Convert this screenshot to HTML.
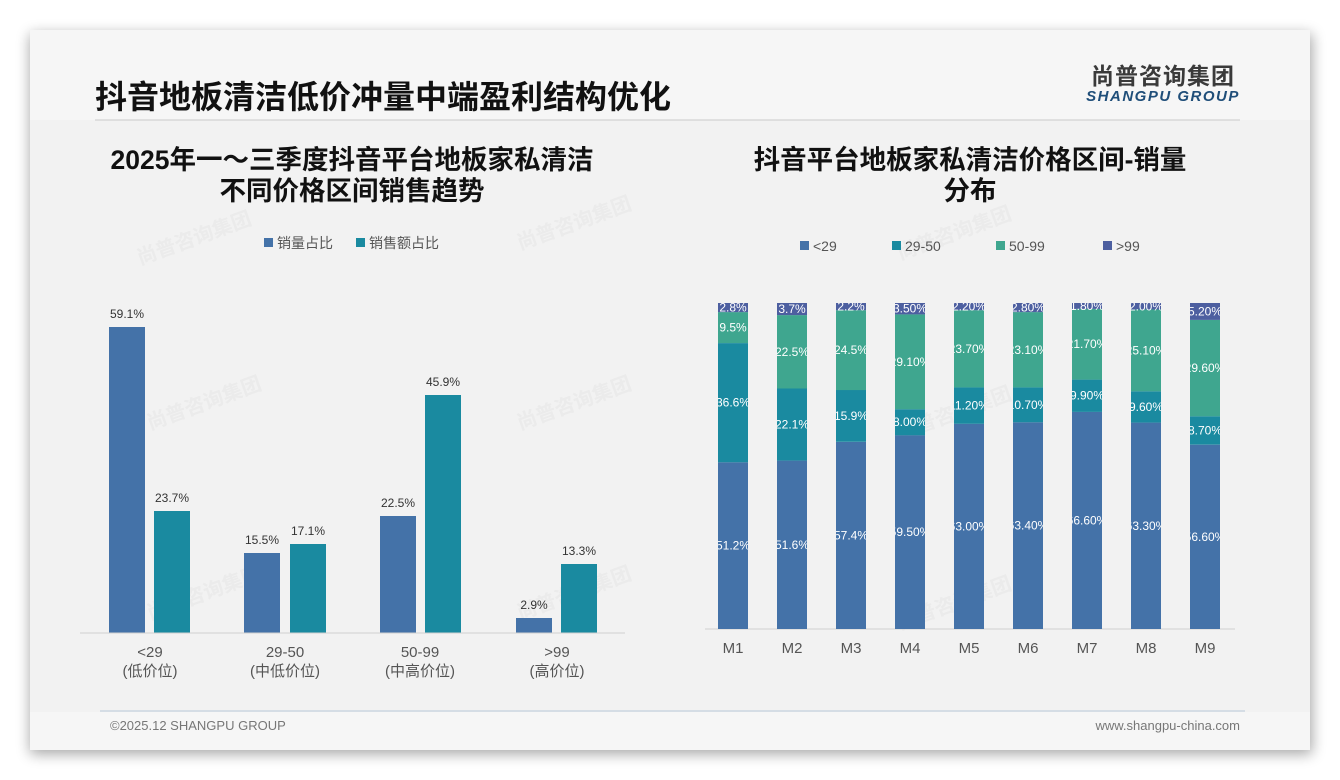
<!DOCTYPE html>
<html><head><meta charset="utf-8"><style>
body{margin:0;background:#fff;}
svg{display:block;font-family:"Liberation Sans","Noto Sans CJK SC",sans-serif;}
</style></head><body>
<svg width="1340" height="780" viewBox="0 0 1340 780" xmlns="http://www.w3.org/2000/svg">
<defs>
<filter id="sh" x="-5%" y="-5%" width="110%" height="110%"><feGaussianBlur stdDeviation="7"/></filter>
</defs>
<rect x="30" y="34" width="1282" height="720" fill="#000" opacity="0.35" filter="url(#sh)"/>
<rect x="30" y="30" width="1280" height="720" fill="#f6f6f6"/>
<rect x="30" y="120" width="1280" height="592" fill="#f2f2f2"/>
<text x="95" y="108" font-size="32" font-weight="bold" fill="#111">抖音地板清洁低价冲量中端盈利结构优化</text>
<line x1="95" y1="120" x2="1240" y2="120" stroke="#d8d8d8" stroke-width="1.5"/>
<text x="1163" y="84" font-size="23" font-weight="bold" fill="#3a3a3a" text-anchor="middle" letter-spacing="1">尚普咨询集团</text>
<text x="1163" y="101" font-size="15" font-weight="bold" font-style="italic" fill="#1f4e79" text-anchor="middle" letter-spacing="1.5">SHANGPU GROUP</text>

<g font-size="20" font-weight="bold" fill="#e6e6e6" opacity="0.6">
<text transform="translate(140,265) rotate(-20)">尚普咨询集团</text>
<text transform="translate(520,250) rotate(-20)">尚普咨询集团</text>
<text transform="translate(900,260) rotate(-20)">尚普咨询集团</text>
<text transform="translate(150,430) rotate(-20)">尚普咨询集团</text>
<text transform="translate(520,430) rotate(-20)">尚普咨询集团</text>
<text transform="translate(900,440) rotate(-20)">尚普咨询集团</text>
<text transform="translate(150,620) rotate(-20)">尚普咨询集团</text>
<text transform="translate(520,620) rotate(-20)">尚普咨询集团</text>
<text transform="translate(900,630) rotate(-20)">尚普咨询集团</text>
</g>

<!-- Left chart -->
<text x="352" y="169" font-size="26.5" font-weight="bold" fill="#111" text-anchor="middle">2025年一～三季度抖音平台地板家私清洁</text>
<text x="352" y="200" font-size="26.5" font-weight="bold" fill="#111" text-anchor="middle">不同价格区间销售趋势</text>
<rect x="264" y="238" width="9" height="9" fill="#4472a8"/>
<text x="277" y="248" font-size="14" fill="#555">销量占比</text>
<rect x="356" y="238" width="9" height="9" fill="#1a8aa0"/>
<text x="369" y="248" font-size="14" fill="#555">销售额占比</text>
<g font-size="12" fill="#333" text-anchor="middle">
<rect x="109" y="327" width="36" height="306" fill="#4472a8"/><text x="127" y="318">59.1%</text>
<rect x="154" y="511" width="36" height="122" fill="#1a8aa0"/><text x="172" y="502">23.7%</text>
<rect x="244" y="553" width="36" height="80" fill="#4472a8"/><text x="262" y="544">15.5%</text>
<rect x="290" y="544" width="36" height="89" fill="#1a8aa0"/><text x="308" y="535">17.1%</text>
<rect x="380" y="516" width="36" height="117" fill="#4472a8"/><text x="398" y="507">22.5%</text>
<rect x="425" y="395" width="36" height="238" fill="#1a8aa0"/><text x="443" y="386">45.9%</text>
<rect x="516" y="618" width="36" height="15" fill="#4472a8"/><text x="534" y="609">2.9%</text>
<rect x="561" y="564" width="36" height="69" fill="#1a8aa0"/><text x="579" y="555">13.3%</text>
</g>
<line x1="80" y1="633" x2="625" y2="633" stroke="#d0d0d0"/>
<g font-size="15" fill="#555" text-anchor="middle">
<text x="150" y="657">&lt;29</text><text x="150" y="676">(低价位)</text>
<text x="285" y="657">29-50</text><text x="285" y="676">(中低价位)</text>
<text x="420" y="657">50-99</text><text x="420" y="676">(中高价位)</text>
<text x="557" y="657">&gt;99</text><text x="557" y="676">(高价位)</text>
</g>

<!-- Right chart -->
<text x="970" y="169" font-size="26.5" font-weight="bold" fill="#111" text-anchor="middle">抖音平台地板家私清洁价格区间-销量</text>
<text x="970" y="200" font-size="26.5" font-weight="bold" fill="#111" text-anchor="middle">分布</text>
<g font-size="14" fill="#555">
<rect x="800" y="241" width="9" height="9" fill="#4472a8"/><text x="813" y="251">&lt;29</text>
<rect x="892" y="241" width="9" height="9" fill="#1a8aa0"/><text x="905" y="251">29-50</text>
<rect x="996" y="241" width="9" height="9" fill="#3fa68f"/><text x="1009" y="251">50-99</text>
<rect x="1103" y="241" width="9" height="9" fill="#4d5fa0"/><text x="1116" y="251">&gt;99</text>
</g>
<line x1="705" y1="629" x2="1235" y2="629" stroke="#d0d0d0"/>
<g id="stk"></g>
<g font-size="15" fill="#555" text-anchor="middle">
<text x="733" y="653">M1</text><text x="792" y="653">M2</text><text x="851" y="653">M3</text>
<text x="910" y="653">M4</text><text x="969" y="653">M5</text><text x="1028" y="653">M6</text>
<text x="1087" y="653">M7</text><text x="1146" y="653">M8</text><text x="1205" y="653">M9</text>
</g>

<line x1="100" y1="711" x2="1245" y2="711" stroke="#b8c8d8" stroke-width="1"/>
<text x="110" y="730" font-size="13" fill="#777">©2025.12 SHANGPU GROUP</text>
<text x="1240" y="730" font-size="13" fill="#777" text-anchor="end">www.shangpu-china.com</text>
</svg>
<script>
(function(){
var d=[[51.2,36.6,9.5,2.8,"%1"],[51.6,22.1,22.5,3.7,"%1"],[57.4,15.9,24.5,2.2,"%1"],[59.5,8.0,29.1,3.5,"%2"],[63.0,11.2,23.7,2.2,"%2"],[63.4,10.7,23.1,2.8,"%2"],[66.6,9.9,21.7,1.8,"%2"],[63.3,9.6,25.1,2.0,"%2"],[56.6,8.7,29.6,5.2,"%2"]];
var c=["#4472a8","#1a8aa0","#3fa68f","#4d5fa0"];
var g=document.getElementById("stk"),s="",defs="";
for(var i=0;i<9;i++){
 var x=718+59*i,w=30,tot=d[i][0]+d[i][1]+d[i][2]+d[i][3],y=629;
 defs+='<clipPath id="c'+i+'"><rect x="'+x+'" y="303" width="'+w+'" height="326"/></clipPath>';
 var dec=d[i][4]=="%1"?1:2;
 for(var k=0;k<4;k++){
  var h=d[i][k]/tot*326;y-=h;
  s+='<rect x="'+x+'" y="'+y.toFixed(1)+'" width="'+w+'" height="'+h.toFixed(1)+'" fill="'+c[k]+'"/>';
  s+='<text clip-path="url(#c'+i+')" x="'+(x+w/2)+'" y="'+(y+h/2+4).toFixed(1)+'" font-size="12" fill="#fff" text-anchor="middle">'+d[i][k].toFixed(dec)+'%</text>';
 }
}
g.innerHTML='<defs>'+defs+'</defs>'+s;
})();
</script>
</body></html>
